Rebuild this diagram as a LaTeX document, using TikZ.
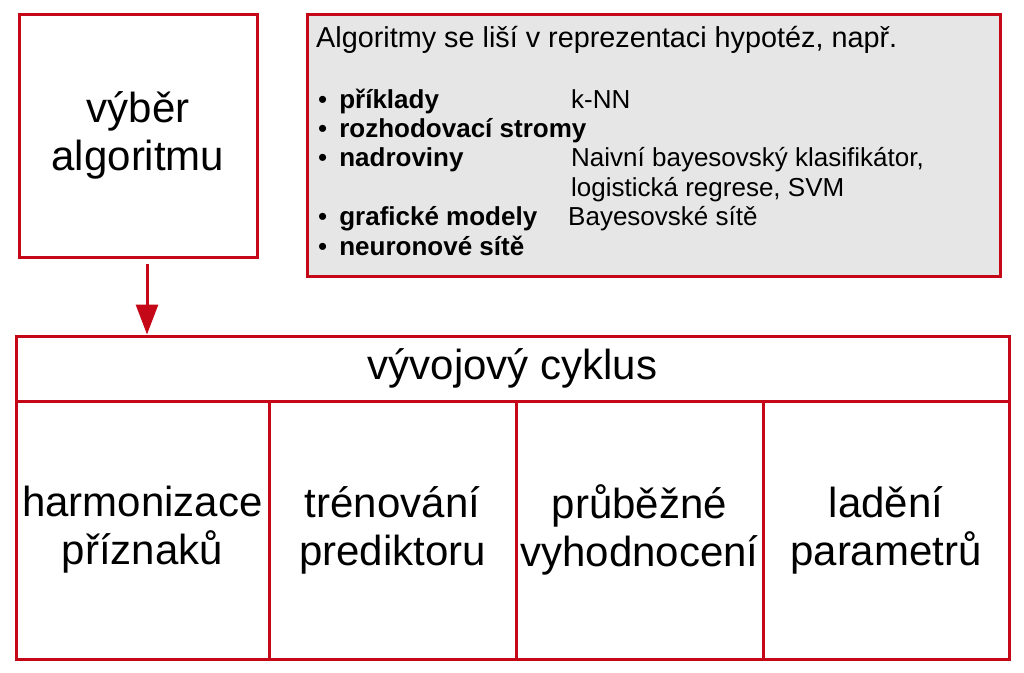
\documentclass[tikz,border=0pt]{standalone}
\usepackage{fontspec}
\setmainfont{Liberation Sans}
\usetikzlibrary{arrows.meta,positioning}
\definecolor{boxred}{RGB}{196,8,24}
\definecolor{boxgray}{RGB}{230,230,230}
\newcommand{\bitem}[1]{\makebox[255pt][l]{\hspace{2pt}\textbullet\hspace{12pt}\textbf{#1}}}
\tikzset{
  redbox/.style={draw=boxred, line width=3pt, inner sep=0pt, align=center,
    font=\fontsize{42}{48}\selectfont},
  cell/.style={redbox, minimum height=258pt},
  arr/.style={draw=boxred, line width=3pt, -{Triangle[length=30pt,width=22pt]}}
}
\begin{document}
\begin{tikzpicture}[x=1pt,y=-1pt]
    \useasboundingbox (0,0) rectangle (1024,672);
    \node[redbox, minimum width=238pt, minimum height=243pt] (algo) at (138,135.5) {výběr\\algoritmu};
    \node[redbox, fill=boxgray, minimum width=693pt, minimum height=262pt] (info) at (653.5,145) {};
    \node[anchor=base west, inner sep=0pt, font=\fontsize{28.8}{30}\selectfont] (title) at (316,47)
        {Algoritmy se liší v reprezentaci hypotéz, např.};
    \node[anchor=base west, inner sep=0pt, font=\fontsize{26}{29.4}\selectfont] (list) at (316,108) {%
      \begin{tabular}[t]{@{}l@{}l@{}}
        \bitem{příklady} & k-NN\\
        \bitem{rozhodovací stromy} & \\
        \bitem{nadroviny} & Naivní bayesovský klasifikátor,\\
        \makebox[255pt]{} & logistická regrese, SVM\\
        \bitem{grafické modely} & \hspace{-3pt}Bayesovské sítě\\
        \bitem{neuronové sítě} &
      \end{tabular}};
    \node[redbox, minimum width=993pt, minimum height=65pt] (cycle) at (512.5,368.5) {vývojový cyklus};
    % cells of the cycle
    \node[cell, minimum width=253pt] (harm) at (142.5,530) {harmonizace\\příznaků};
    \node[cell, minimum width=247pt] (train) at (392.5,530) {trénování\\prediktoru};
    \node[cell, minimum width=247pt] (eval) at (639.5,530) {průběžné\\vyhodnocení};
    \node[cell, minimum width=246pt] (tune) at (886,530) {ladění\\parametrů};
    \draw[arr] ([yshift=-5pt]algo.south -| 147,0) -- (147,0 |- cycle.north);
\end{tikzpicture}
\end{document}
